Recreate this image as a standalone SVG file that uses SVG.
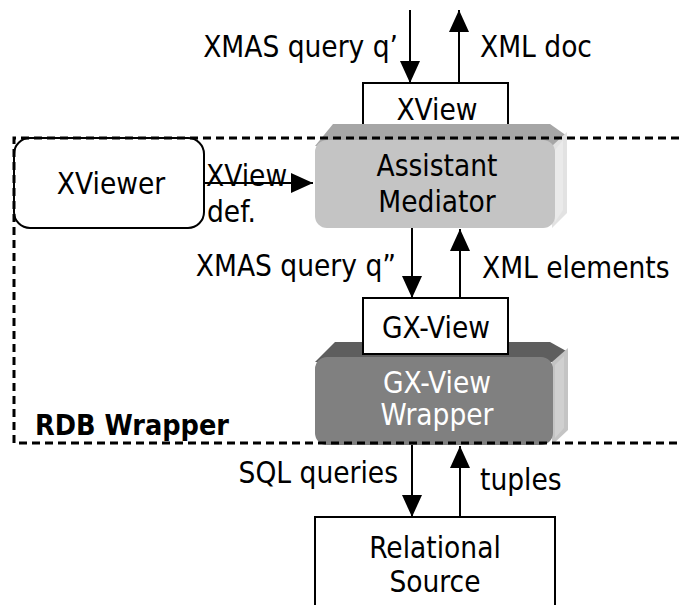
<svg xmlns="http://www.w3.org/2000/svg" width="679" height="605" viewBox="0 0 679 605">
  <defs>
    <marker id="head" markerUnits="userSpaceOnUse" markerWidth="22" markerHeight="24" refX="22" refY="10" orient="auto">
      <path d="M0,0 L22,10 L0,20 Z" fill="#000"/>
    </marker>
    <style>
      text { font-family: "DejaVu Sans Condensed", "DejaVu Sans", sans-serif; font-size: 29.5px; fill: #000; }
      .mid { text-anchor: middle; }
      .end { text-anchor: end; }
      .white { fill: #ffffff; }
      .bold { font-weight: bold; font-size: 28.5px; }
      .box { fill: #ffffff; stroke: #000; stroke-width: 2; }
      .arrow { stroke: #000; stroke-width: 2; fill: none; marker-end: url(#head); }
      .dash { stroke: #000; stroke-width: 3; fill: none; stroke-dasharray: 8 5; }
    </style>
  </defs>

  <!-- XView interface box above the mediator -->
  <g id="xview">
    <rect class="box" x="363" y="83" width="145" height="44"/>
    <text class="mid" x="437" y="120">XView</text>
  </g>

  <!-- Assistant Mediator: bevelled 3D block -->
  <g id="assistant-mediator">
    <path d="M315,146 L333,124 L550,124 L567,136 L553,146 Z" fill="#a6a6a6"/>
    <path d="M552,146 L567,132 L567,213 L552,228 Z" fill="#e2e2e2"/>
    <path d="M555,150 L563,140 L563,210 L555,222 Z" fill="#eaeaea"/>
    <rect x="315" y="140" width="240" height="88" rx="12" fill="#c4c4c4"/>
    <text class="mid" x="437" y="176">Assistant</text>
    <text class="mid" x="437" y="212">Mediator</text>
  </g>

  <!-- XViewer -->
  <g id="xviewer">
    <rect class="box" x="14" y="138" width="190" height="90" rx="16"/>
    <text class="mid" x="111" y="194">XViewer</text>
  </g>

  <!-- GX-View Wrapper: darker bevelled 3D block -->
  <g id="gx-view-wrapper">
    <path d="M315,362 L335,342 L550,342 L568,352 L553,362 Z" fill="#5e5e5e"/>
    <path d="M552,362 L568,348 L568,430 L552,445 Z" fill="#c4c4c4"/>
    <path d="M555,365 L564,356 L564,428 L555,438 Z" fill="#d0d0d0"/>
    <rect x="315" y="357" width="238" height="88" rx="12" fill="#808080"/>
    <text class="mid white" x="437" y="393">GX-View</text>
    <text class="mid white" x="437" y="425">Wrapper</text>
  </g>

  <!-- GX-View interface box -->
  <g id="gx-view">
    <rect class="box" x="363" y="298" width="145" height="56"/>
    <text class="mid" x="436" y="338">GX-View</text>
  </g>

  <!-- Relational Source -->
  <g id="relational-source">
    <rect class="box" x="315" y="517" width="240" height="100"/>
    <text class="mid" x="435" y="558">Relational</text>
    <text class="mid" x="435" y="592">Source</text>
  </g>

  <!-- RDB Wrapper boundary -->
  <g id="rdb-wrapper">
    <path class="dash" d="M679,138 L14,138 L14,443 L679,443"/>
    <text class="bold" x="35" y="435">RDB Wrapper</text>
  </g>

  <!-- connectors -->
  <g id="connectors">
    <line class="arrow" x1="410" y1="10" x2="410" y2="83"/>
    <line class="arrow" x1="459" y1="83" x2="459" y2="10"/>
    <line class="arrow" x1="204" y1="183" x2="313" y2="183"/>
    <line class="arrow" x1="412" y1="228" x2="412" y2="298"/>
    <line class="arrow" x1="460" y1="298" x2="460" y2="229"/>
    <line class="arrow" x1="412" y1="445" x2="412" y2="517"/>
    <line class="arrow" x1="460" y1="517" x2="460" y2="446"/>
  </g>

  <!-- connector labels -->
  <g id="labels">
    <text class="end" x="398" y="57">XMAS query q’</text>
    <text x="480" y="57">XML doc</text>
    <text x="206" y="186">XView</text>
    <text x="207" y="222">def.</text>
    <text class="end" x="396" y="276">XMAS query q”</text>
    <text x="482" y="278">XML elements</text>
    <text class="end" x="398" y="483">SQL queries</text>
    <text x="480" y="490">tuples</text>
  </g>
</svg>
